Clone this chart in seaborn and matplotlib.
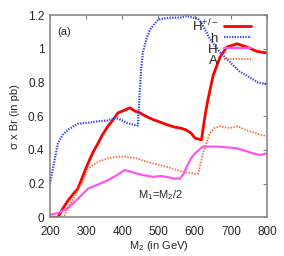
import numpy as np
import pandas as pd
import matplotlib
matplotlib.use("Agg")
import matplotlib.pyplot as plt
import seaborn as sns

# values
h_mass = [200, 210, 222, 235, 250, 265, 277, 300, 333, 360, 379, 395, 413, 430, 443, 447, 452, 457,
          467, 477, 490, 500, 532, 560, 578, 595, 609, 620, 642, 670, 698, 725, 753, 775, 800]
h_br = [0.20, 0.31, 0.44, 0.49, 0.52, 0.54, 0.555, 0.56, 0.57, 0.575, 0.59, 0.58, 0.56, 0.55, 0.545,
        0.70, 0.88, 0.98, 1.06, 1.115, 1.15, 1.175, 1.185, 1.185, 1.195, 1.185, 1.18, 1.15, 1.06,
        0.98, 0.92, 0.865, 0.83, 0.80, 0.79]

hpm_mass = [200, 215, 222, 235, 250, 265, 277, 290, 305, 320, 333, 345, 360, 375, 388, 400, 421,
            435, 449, 465, 485, 505, 523, 545, 560, 575, 590, 601, 619, 623, 630, 637, 651, 670,
            689, 717, 745, 772, 800]
hpm_br = [0.0, 0.0, 0.0, 0.05, 0.10, 0.14, 0.17, 0.24, 0.32, 0.39, 0.44, 0.49, 0.54, 0.58, 0.62,
          0.63, 0.65, 0.63, 0.62, 0.60, 0.58, 0.565, 0.55, 0.535, 0.53, 0.52, 0.50, 0.47, 0.46,
          0.52, 0.62, 0.70, 0.84, 0.95, 1.01, 1.03, 1.01, 0.985, 0.975]

H_mass = [200, 222, 250, 277, 305, 333, 360, 385, 406, 425, 440, 460, 485, 505, 523, 545, 560,
          570, 578, 590, 601, 623, 661, 690, 717, 740, 761, 780, 800]
H_br = [0.015, 0.025, 0.055, 0.11, 0.17, 0.195, 0.22, 0.25, 0.28, 0.27, 0.26, 0.25, 0.24, 0.245,
        0.24, 0.23, 0.23, 0.26, 0.30, 0.35, 0.38, 0.42, 0.42, 0.415, 0.41, 0.395, 0.38, 0.37, 0.38]

A_mass = [200, 230, 240, 250, 265, 277, 290, 305, 333, 360, 385, 406, 425, 440, 460, 485, 505,
          523, 545, 560, 580, 601, 610, 623, 642, 655, 670, 698, 720, 740, 753, 775, 800]
A_br = [0.0, 0.0, 0.01, 0.06, 0.11, 0.16, 0.21, 0.29, 0.33, 0.35, 0.36, 0.36, 0.355, 0.35, 0.335,
        0.32, 0.31, 0.30, 0.285, 0.275, 0.265, 0.26, 0.26, 0.38, 0.50, 0.53, 0.54, 0.53, 0.54,
        0.52, 0.51, 0.495, 0.48]

x_ticks = [200, 300, 400, 500, 600, 700, 800]
y_ticks = [0, 0.2, 0.4, 0.6, 0.8, 1.0, 1.2]
y_labels = ["0", "0.2", "0.4", "0.6", "0.8", "1", "1.2"]

sns.set_style("white")
plt.rcParams['font.family'] = ['Liberation Sans', 'DejaVu Sans']
plt.rcParams['mathtext.fontset'] = 'custom'
plt.rcParams['mathtext.rm'] = 'Liberation Sans'
plt.rcParams['mathtext.it'] = 'Liberation Sans'

fig = plt.figure(figsize=(2.84, 2.56), dpi=100)
ax = fig.add_axes([0.176, 0.151, 0.764, 0.790])

sns.lineplot(x=hpm_mass, y=hpm_br, ax=ax, color="#ff0000", lw=2.0, label="H$^{+/-}$", estimator=None)
sns.lineplot(x=h_mass, y=h_br, ax=ax, color="#3344ee", lw=1.6, ls=(0, (0.6, 0.6)), label="h", estimator=None)
sns.lineplot(x=H_mass, y=H_br, ax=ax, color="#ff55ee", lw=1.6, label="H", estimator=None)
sns.lineplot(x=A_mass, y=A_br, ax=ax, color="#ff6633", lw=1.3, ls=(0, (0.8, 0.8)), label="A", estimator=None)

ax.set_xlim(200, 800)
ax.set_ylim(0, 1.2)
ax.set_xticks(x_ticks)
ax.set_yticks(y_ticks)
ax.set_yticklabels(y_labels)
ax.tick_params(direction="in", length=3, width=0.8, color="#808080", labelsize=8.5,
               top=True, right=True, pad=4)
ax.tick_params(axis="x", pad=6)
for s in ax.spines.values():
    s.set_color("#808080")
    s.set_linewidth(1.1)

ax.set_xlabel("M$_2$ (in GeV)", fontsize=8, labelpad=1)
ax.set_ylabel("σ x Br (in pb)", fontsize=8, labelpad=6)
ax.text(220, 1.08, "(a)", fontsize=8)
ax.text(443, 0.115, "M$_1$=M$_2$/2", fontsize=8)

leg = ax.legend(loc="upper right", markerfirst=False, frameon=False, fontsize=9.5,
                handlelength=2.0, labelspacing=-0.1, handletextpad=0.5,
                borderaxespad=0.0, bbox_to_anchor=(0.95, 1.015))

fig.savefig("out.png", dpi=100)
